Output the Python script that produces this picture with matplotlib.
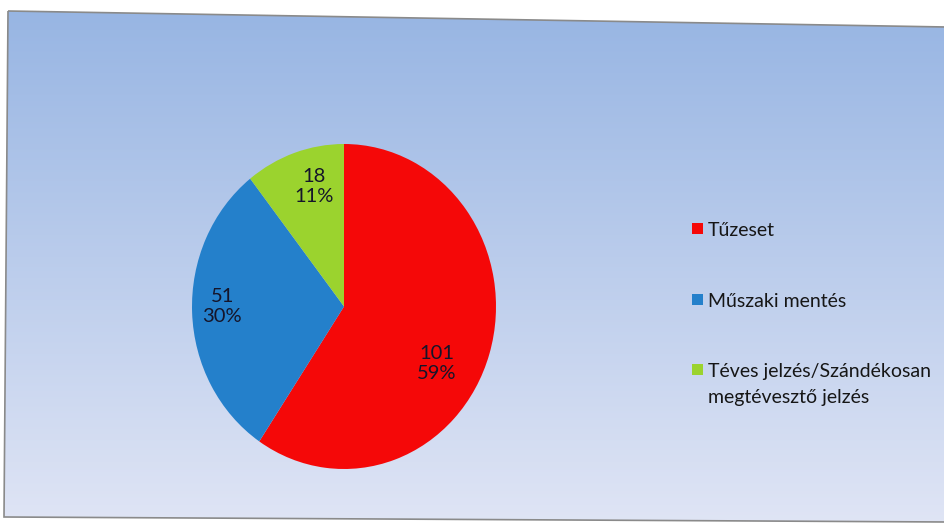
import numpy as np
import matplotlib.pyplot as plt
from matplotlib.patches import Polygon, Rectangle

plt.rcParams['font.family'] = ['Lato', 'DejaVu Sans']

# Data
categories = ['Tűzeset', 'Műszaki mentés', 'Téves jelzés/Szándékosan\nmegtévesztő jelzés']
counts = [101, 51, 18]
colors = ['#f50808', '#2480cb', '#9bd32e']

W, H = 944, 524
fig = plt.figure(figsize=(W / 100, H / 100), dpi=100)

# background: slightly tilted scanned chart frame with blue gradient
bg = fig.add_axes([0, 0, 1, 1])
bg.set_xlim(0, W)
bg.set_ylim(H, 0)
bg.axis('off')
frame = Polygon([(8, 11), (946, 27), (946, 522), (4, 517)], closed=True,
                facecolor='none', edgecolor='#8a8a8a', lw=1.2, zorder=3)
bg.add_patch(frame)
top = np.array([0x97, 0xb5, 0xe3]) / 255
bot = np.array([0xe0, 0xe5, 0xf5]) / 255
t = np.linspace(0, 1, 256)[:, None]
grad = (top * (1 - t) + bot * t)[:, None, :]
im = bg.imshow(grad, extent=[0, W, 527, 8], aspect='auto', zorder=1)
im.set_clip_path(frame)

# pie (scan is slightly stretched vertically)
cx, cy, rx, ry = 344, 306.5, 152, 162.5
ax = fig.add_axes([(cx - rx) / W, (H - cy - ry) / H, 2 * rx / W, 2 * ry / H])
total = sum(counts)
wedges, _, autotexts = ax.pie(
    counts, colors=colors, startangle=90, counterclock=False,
    autopct=lambda p: f'{round(p * total / 100)}\n{p:.0f}%',
    pctdistance=0.76,
    textprops=dict(fontsize=14.5, color='#15152a', linespacing=1.2),
)
# Excel "best fit" label spots
for txt, pos in zip(autotexts, [(0.61, -0.35), (-0.80, 0.0), (-0.20, 0.74)]):
    txt.set_position(pos)
ax.set_aspect('auto')
ax.set_xlim(-1, 1)
ax.set_ylim(-1, 1)
ax.axis('off')

# legend drawn by hand to mimic the spacing of the original
for i, (lab, col) in enumerate(zip(categories, colors)):
    y0 = 223 + 70.5 * i
    bg.add_patch(Rectangle((692, y0), 11, 11, facecolor=col, edgecolor='none', zorder=4))
    for j, line in enumerate(lab.split('\n')):
        bg.text(708, y0 + 13.5 + 25.5 * j, line, fontsize=14, color='#161616',
                va='baseline', ha='left', zorder=4)

fig.savefig('out.png', dpi=100)
